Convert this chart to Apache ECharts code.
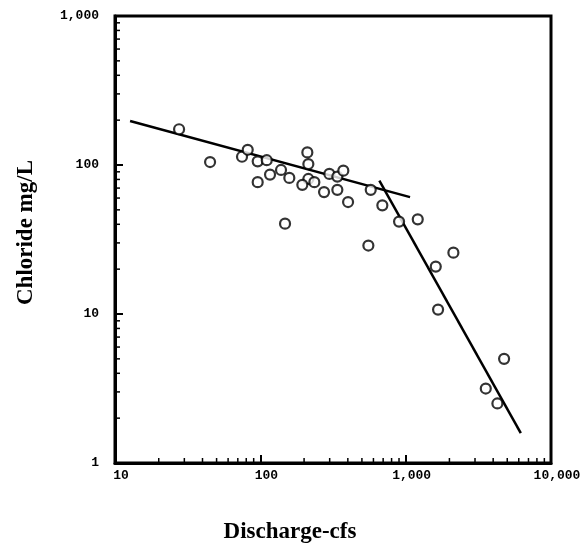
<!DOCTYPE html>
<html>
<head>
<meta charset="utf-8">
<script src="https://cdn.jsdelivr.net/npm/echarts@6/dist/echarts.min.js"></script>
<style>html,body{margin:0;padding:0;background:#fff}#c{width:585px;height:549px}</style>
</head>
<body>
<div id="c"></div>
<script>
// Observations: discharge (cfs) and chloride (mg/L)
const discharge = [27.6, 45.1, 74.8, 81.9, 95.9, 110.7, 95.9, 116.6, 138.8, 158.3, 147.9,
  210.6, 214, 214, 194.5, 235.3, 274.4, 298.5, 338.8, 372.5, 338.8, 401.5, 575, 553.8,
  691, 900.6, 1211, 2130, 1611, 1671, 4756, 3558, 4277];
const chloride = [173.8, 104.7, 113.6, 126.5, 105.8, 107.7, 76.7, 86.2, 92.6, 81.9, 40.4,
  121.5, 101.5, 80.6, 73.6, 76.7, 65.8, 87.1, 83.6, 91.6, 68.1, 56.4, 68.1, 28.8,
  53.6, 41.7, 43.2, 25.8, 20.8, 10.7, 5.0, 3.16, 2.51];
// Fitted lines (end points)
const fitLowX = [12.7, 1072];
const fitLowY = [197.4, 60.9];
const fitHighX = [659, 6197];
const fitHighY = [78.6, 1.585];
// Axis ticks
const xTickLabels = {10: '10', 100: '100', 1000: '1,000', 10000: '10,000'};
const yTickLabels = {1: '1', 10: '10', 100: '100', 1000: '1,000'};
const xMinorTicks = [20,30,40,50,60,70,80,90,200,300,400,500,600,700,800,900,2000,3000,4000,5000,6000,7000,8000,9000];
const yMinorTicks = [2,3,4,5,6,7,8,9,20,30,40,50,60,70,80,90,200,300,400,500,600,700,800,900];

const points = discharge.map((d, i) => [d, chloride[i]]);
const lowLine = fitLowX.map((d, i) => [d, fitLowY[i]]);
const highLine = fitHighX.map((d, i) => [d, fitHighY[i]]);

const chart = echarts.init(document.getElementById('c'));
const labelFont = {fontFamily: 'Liberation Mono', fontWeight: 'bold', fontSize: 13, color: '#000'};

function tickSeries(vals, isX) {
  return {
    type: 'custom',
    silent: true,
    clip: false,
    data: vals.map(v => isX ? [v, 1] : [10, v]),
    renderItem: function (params, api) {
      const p = api.coord([api.value(0), api.value(1)]);
      const len = 5;
      return {
        type: 'line',
        shape: isX ? {x1: p[0], y1: p[1], x2: p[0], y2: p[1] - len}
                   : {x1: p[0], y1: p[1], x2: p[0] + len, y2: p[1]},
        style: {stroke: '#000', lineWidth: 1.5}
      };
    },
    z: 5
  };
}

chart.setOption({
  animation: false,
  backgroundColor: '#fff',
  grid: {left: 115, right: 34, top: 16, bottom: 83, show: true, borderColor: '#000', borderWidth: 3},
  xAxis: {
    type: 'log', logBase: 10, min: 10, max: 10000,
    name: 'Discharge-cfs', nameLocation: 'middle', nameGap: 58,
    nameTextStyle: {fontFamily: 'Liberation Serif', fontWeight: 'bold', fontSize: 23, color: '#000', padding: [0, 86, 0, 0]},
    axisLine: {lineStyle: {color: '#000', width: 3}},
    axisTick: {inside: true, length: 8, lineStyle: {color: '#000', width: 2}},
    splitLine: {show: false},
    axisLabel: Object.assign({margin: 6, padding: [0, 0, 0, 12], formatter: v => xTickLabels[Math.round(v)] || ''}, labelFont)
  },
  yAxis: {
    type: 'log', logBase: 10, min: 1, max: 1000,
    name: 'Chloride mg/L', nameLocation: 'middle', nameGap: 77, nameRotate: 90,
    nameTextStyle: {fontFamily: 'Liberation Serif', fontWeight: 'bold', fontSize: 23, color: '#000', padding: [0, 0, 0, 14]},
    axisLine: {lineStyle: {color: '#000', width: 3}},
    axisTick: {inside: true, length: 8, lineStyle: {color: '#000', width: 2}},
    splitLine: {show: false},
    axisLabel: Object.assign({margin: 16, formatter: v => yTickLabels[Math.round(v)] || ''}, labelFont)
  },
  series: [
    {
      type: 'scatter', data: points, symbol: 'circle', symbolSize: 10,
      itemStyle: {color: '#fff', borderColor: '#000', borderWidth: 2.2}, z: 4
    },
    {
      type: 'line', data: lowLine, showSymbol: false, symbol: 'none',
      lineStyle: {color: '#000', width: 2.5}, z: 3
    },
    {
      type: 'line', data: highLine, showSymbol: false, symbol: 'none',
      lineStyle: {color: '#000', width: 2.5}, z: 3
    },
    tickSeries(xMinorTicks, true),
    tickSeries(yMinorTicks, false)
  ]
});
</script>
</body>
</html>
